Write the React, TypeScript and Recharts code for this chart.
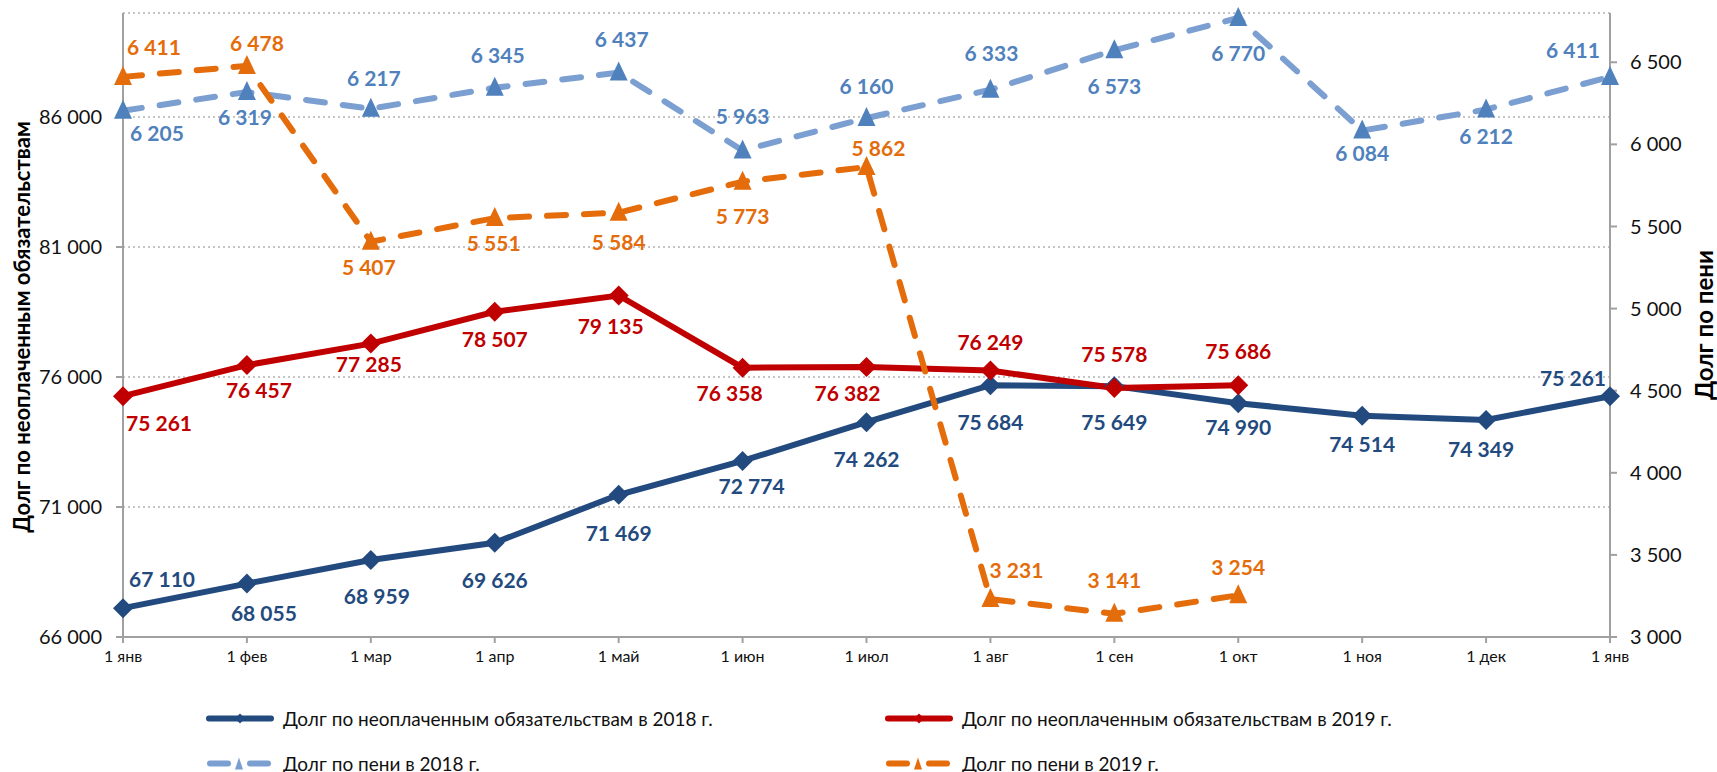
import React from "react"
import { CartesianGrid, Label, LabelList, Line, LineChart, XAxis, YAxis } from "recharts"

const months = ["1 янв", "1 фев", "1 мар", "1 апр", "1 май", "1 июн", "1 июл", "1 авг", "1 сен", "1 окт", "1 ноя", "1 дек", "1 янв"]
const debt2018 = [67110, 68055, 68959, 69626, 71469, 72774, 74262, 75684, 75649, 74990, 74514, 74349, 75261]
const debt2019 = [75261, 76457, 77285, 78507, 79135, 76358, 76382, 76249, 75578, 75686, null, null, null]
const fine2018 = [6205, 6319, 6217, 6345, 6437, 5963, 6160, 6333, 6573, 6770, 6084, 6212, 6411]
const fine2019 = [6411, 6478, 5407, 5551, 5584, 5773, 5862, 3231, 3141, 3254, null, null, null]
const debtTicks = [66000, 71000, 76000, 81000, 86000]
const fineTicks = [3000, 3500, 4000, 4500, 5000, 5500, 6000, 6500]

// label offsets [dx, dy] from each point, as placed in the original
const debt2018LabelPos = [[39, -30], [17, 29], [6, 35], [0, 37], [0, 38], [9, 25], [0, 36], [0, 36], [0, 35], [0, 23], [0, 28], [-5, 29], [-37, -19]]
const debt2019LabelPos = [[36, 26], [12, 24], [-2, 20], [0, 27], [-8, 30], [-13, 25], [-19, 25], [0, -29], [0, -34], [0, -35]]
const fine2018LabelPos = [[34, 22], [-2, 25], [3, -31], [3, -33], [3, -34], [0, -35], [0, -33], [1, -37], [0, 35], [0, 35], [0, 22], [0, 26], [-37, -27]]
const fine2019LabelPos = [[31, -30], [10, -23], [-2, 25], [-1, 24], [0, 29], [0, 34], [12, -20], [26, -30], [0, -34], [0, -29]]

const DARK_BLUE = "#234A7E"
const RED = "#C00000"
const LIGHT_BLUE = "#4F81BD"
const LIGHT_BLUE_LINE = "#7C9FD1"
const ORANGE = "#E46C0A"
const FONT = "Lato, 'Open Sans', sans-serif"

const data = months.map((month, i) => ({
  month,
  debt2018: debt2018[i],
  debt2019: debt2019[i],
  fine2018: fine2018[i],
  fine2019: fine2019[i],
}))

const fmt = (v: number) => String(v).replace(/\B(?=(\d{3})+(?!\d))/g, " ")

const diamondDot = (color: string, r: number) => (props: any) => {
  const { cx, cy, index } = props
  if (cx == null || cy == null || props.value == null) return <g key={`d-${index}`} />
  return <path key={`d-${index}`} d={`M${cx},${cy - r}L${cx + r},${cy}L${cx},${cy + r}L${cx - r},${cy}Z`} fill={color} />
}

const triangleDot = (color: string, r: number) => (props: any) => {
  const { cx, cy, index } = props
  if (cx == null || cy == null || props.value == null) return <g key={`t-${index}`} />
  return <path key={`t-${index}`} d={`M${cx},${cy - r * 1.1}L${cx + r * 0.9},${cy + r * 0.8}L${cx - r * 0.9},${cy + r * 0.8}Z`} fill={color} />
}

const pointLabel = (color: string, pos: number[][]) => (props: any) => {
  const { value, index } = props
  const x = props.x ?? props.viewBox?.x
  const y = props.y ?? props.viewBox?.y
  if (value == null || x == null || y == null) return null
  const [dx, dy] = pos[index] ?? [0, 30]
  return (
    <text x={x + dx} y={y + dy} fill={color} fontFamily={FONT} fontSize={21} fontWeight={700} textAnchor="middle" dominantBaseline="central">
      {fmt(value)}
    </text>
  )
}

function LegendIcon({ color, dashed, shape }: { color: string; dashed?: boolean; shape: "diamond" | "triangle" }) {
  return (
    <svg width={68} height={14} style={{ display: "block" }}>
      {dashed ? (
        <>
          <line x1={4} y1={7} x2={22} y2={7} stroke={color} strokeWidth={6} strokeLinecap="round" />
          <line x1={44} y1={7} x2={62} y2={7} stroke={color} strokeWidth={6} strokeLinecap="round" />
        </>
      ) : (
        <line x1={3} y1={7} x2={65} y2={7} stroke={color} strokeWidth={6} strokeLinecap="round" />
      )}
      {shape === "diamond" ? <path d="M34,2L39,7L34,12L29,7Z" fill={color} /> : <path d="M33,1L37,13L29,13Z" fill={color} />}
    </svg>
  )
}

const legendItems = [
  { label: "Долг по неоплаченным обязательствам в 2018 г.", color: DARK_BLUE, dashed: false, shape: "diamond", left: 206, top: 718 },
  { label: "Долг по неоплаченным обязательствам в 2019 г.", color: RED, dashed: false, shape: "diamond", left: 885, top: 718 },
  { label: "Долг по пени в 2018 г.", color: LIGHT_BLUE_LINE, dashed: true, shape: "triangle", left: 206, top: 763 },
  { label: "Долг по пени в 2019 г.", color: ORANGE, dashed: true, shape: "triangle", left: 885, top: 763 },
] as const

export default function App() {
  return (
    <div style={{ position: "absolute", left: 0, top: 0, width: 1717, height: 772, background: "#fff", fontFamily: FONT }}>
      <LineChart width={1717} height={772} data={data} margin={{ top: 13, right: 37, left: 43, bottom: 95 }}>
        <CartesianGrid yAxisId="left" vertical={false} stroke="#8c8c8c" strokeDasharray="2 3" />
        <XAxis
          dataKey="month"
          interval={0}
          height={40}
          tickSize={6}
          tickMargin={8}
          stroke="#a0a0a0"
          strokeWidth={2}
          tick={{ fontSize: 16, fill: "#111", fontFamily: FONT }}
        />
        <YAxis
          yAxisId="left"
          width={80}
          domain={[66000, 90000]}
          ticks={debtTicks}
          tickFormatter={fmt}
          tickSize={7}
          tickMargin={14}
          stroke="#a0a0a0"
          strokeWidth={2}
          tick={{ fontSize: 20, fill: "#111", fontFamily: FONT }}
        >
          <Label
            content={({ viewBox }: any) => {
              const cx = viewBox.x - 22
              const cy = viewBox.y + viewBox.height / 2 + 2
              return (
                <text x={cx} y={cy} transform={`rotate(-90 ${cx} ${cy})`} textAnchor="middle" dominantBaseline="central" fontFamily={FONT} fontSize={22} fontWeight={700} fill="#000">
                  Долг по неоплаченным обязательствам
                </text>
              )
            }}
          />
        </YAxis>
        <YAxis
          yAxisId="right"
          orientation="right"
          width={70}
          domain={[3000, 6800]}
          ticks={fineTicks}
          tickFormatter={fmt}
          tickSize={7}
          tickMargin={13}
          stroke="#a0a0a0"
          strokeWidth={2}
          tick={{ fontSize: 20, fill: "#111", fontFamily: FONT }}
        >
          <Label
            content={({ viewBox }: any) => {
              const cx = viewBox.x + viewBox.width + 23
              const cy = viewBox.y + viewBox.height / 2
              return (
                <text x={cx} y={cy} transform={`rotate(-90 ${cx} ${cy})`} textAnchor="middle" dominantBaseline="central" fontFamily={FONT} fontSize={24} fontWeight={700} fill="#000">
                  Долг по пени
                </text>
              )
            }}
          />
        </YAxis>
        <Line
          yAxisId="left"
          dataKey="debt2018"
          stroke={DARK_BLUE}
          strokeWidth={6}
          dot={diamondDot(DARK_BLUE, 10)}
          activeDot={false}
          isAnimationActive={false}
        >
          <LabelList dataKey="debt2018" content={pointLabel(DARK_BLUE, debt2018LabelPos)} />
        </Line>
        <Line
          yAxisId="left"
          dataKey="debt2019"
          stroke={RED}
          strokeWidth={6}
          dot={diamondDot(RED, 10)}
          activeDot={false}
          isAnimationActive={false}
        >
          <LabelList dataKey="debt2019" content={pointLabel(RED, debt2019LabelPos)} />
        </Line>
        <Line
          yAxisId="right"
          dataKey="fine2018"
          stroke={LIGHT_BLUE_LINE}
          strokeWidth={6}
          strokeDasharray="19 18"
          strokeLinecap="round"
          dot={triangleDot(LIGHT_BLUE, 10)}
          activeDot={false}
          isAnimationActive={false}
        >
          <LabelList dataKey="fine2018" content={pointLabel(LIGHT_BLUE, fine2018LabelPos)} />
        </Line>
        <Line
          yAxisId="right"
          dataKey="fine2019"
          stroke={ORANGE}
          strokeWidth={6}
          strokeDasharray="19 18"
          strokeLinecap="round"
          dot={triangleDot(ORANGE, 10)}
          activeDot={false}
          isAnimationActive={false}
        >
          <LabelList dataKey="fine2019" content={pointLabel(ORANGE, fine2019LabelPos)} />
        </Line>
      </LineChart>
      {legendItems.map((item) => (
        <div
          key={item.label}
          style={{ position: "absolute", left: item.left, top: item.top, transform: "translateY(-50%)", display: "flex", alignItems: "center", gap: 9, whiteSpace: "nowrap" }}
        >
          <LegendIcon color={item.color} dashed={item.dashed} shape={item.shape} />
          <span style={{ fontSize: 19, color: "#111" }}>{item.label}</span>
        </div>
      ))}
    </div>
  )
}
